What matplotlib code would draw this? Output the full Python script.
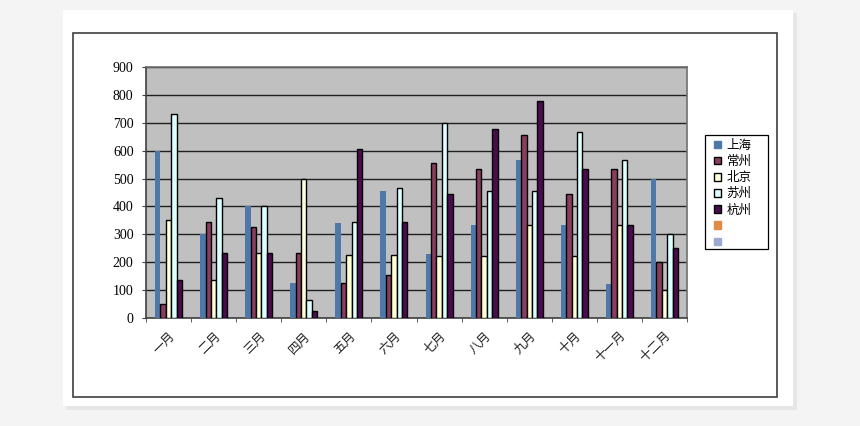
import matplotlib
matplotlib.use("Agg")
import matplotlib.pyplot as plt
from matplotlib.patches import Rectangle, Patch
import numpy as np

plt.rcParams['font.family'] = ['Noto Sans CJK SC', 'DejaVu Sans']

months = ["一月", "二月", "三月", "四月", "五月", "六月", "七月", "八月", "九月", "十月", "十一月", "十二月"]
series_names = ["上海", "常州", "北京", "苏州", "杭州"]
shanghai = [600, 300, 400, 125, 340, 455, 230, 332, 567, 332, 122, 500]
changzhou = [50, 345, 325, 233, 125, 155, 555, 533, 655, 446, 533, 200]
beijing = [350, 135, 233, 500, 225, 225, 222, 222, 332, 222, 332, 100]
suzhou = [730, 430, 400, 65, 345, 467, 700, 456, 456, 667, 567, 300]
hangzhou = [135, 233, 233, 25, 605, 345, 445, 677, 779, 533, 335, 251]
yticks = [0, 100, 200, 300, 400, 500, 600, 700, 800, 900]

values = [shanghai, changzhou, beijing, suzhou, hangzhou]
colors = ["#4F78A8", "#8A3D5E", "#FFFFD8", "#DDFFFF", "#4A0C4E"]
edges = ["none", "black", "black", "black", "black"]
extra_colors = ["#E08A48", "#9AAAD0"]

W, H = 860, 426
fig = plt.figure(figsize=(W / 100, H / 100), dpi=100)
fig.patch.set_facecolor("#F4F4F4")

def px_rect(x0, y0, x1, y1, **kw):
    return Rectangle((x0 / W, 1 - y1 / H), (x1 - x0) / W, (y1 - y0) / H,
                     transform=fig.transFigure, **kw)

# subtle shadow + white card
fig.patches.append(px_rect(66, 13, 797, 410, facecolor="#E6E6E6", edgecolor="none", zorder=-10))
fig.patches.append(px_rect(63, 10, 793, 406, facecolor="white", edgecolor="none", zorder=-9))
# chart border
fig.patches.append(px_rect(73, 33, 777, 397, facecolor="none", edgecolor="#404040", linewidth=1.2, zorder=-8))
# legend frame
fig.patches.append(px_rect(705, 135, 768, 249, facecolor="white", edgecolor="black", linewidth=0.9, zorder=-7))

ax = fig.add_axes([146 / W, 1 - 318 / H, (687 - 146) / W, (318 - 67) / H])
ax.set_facecolor("#C0C0C0")

n = len(months)
x = np.arange(n)
bw = 0.12
offsets = (np.arange(5) - 2) * bw
for i, (vals, c, e) in enumerate(zip(values, colors, edges)):
    ax.bar(x + offsets[i], vals, width=bw, color=c, edgecolor=e,
           linewidth=1.0 if e != "none" else 0, zorder=3)

ax.set_xlim(-0.5, n - 0.5)
ax.set_ylim(0, 900)
ax.set_yticks(yticks)
ax.set_yticklabels([str(v) for v in yticks], family=["Liberation Serif"], fontsize=10)
ax.yaxis.grid(True, color="#202020", linewidth=1.0, zorder=1)
ax.set_axisbelow(True)

ax.set_xticks(x)
ax.set_xticklabels(months, rotation=45, ha="right", rotation_mode="anchor", fontsize=9, color="#222222")
ax.tick_params(axis="x", length=0, pad=8)
ax.set_xticks(np.arange(n + 1) - 0.5, minor=True)
ax.tick_params(axis="x", which="minor", length=3, direction="out", color="#404040")
ax.tick_params(axis="y", length=3, color="#404040", pad=6)

for s in ax.spines.values():
    s.set_color("#707070")
    s.set_linewidth(1.2)
ax.spines["bottom"].set_color("#404040")
ax.spines["left"].set_color("#404040")

handles = [Patch(facecolor=c, edgecolor=("black" if e != "none" else c), linewidth=1.0)
           for c, e in zip(colors, edges)]
handles += [Patch(facecolor=c, edgecolor=c) for c in extra_colors]
labels = series_names + ["", ""]
leg = fig.legend(handles, labels, loc="upper left",
                 bbox_to_anchor=(714 / W, 1 - 139 / H), fontsize=9,
                 frameon=False,
                 handlelength=0.55, handleheight=0.55, handletextpad=0.45,
                 borderpad=0.0, labelspacing=0.25, borderaxespad=0)

fig.savefig("out.png", dpi=100, facecolor=fig.get_facecolor())
